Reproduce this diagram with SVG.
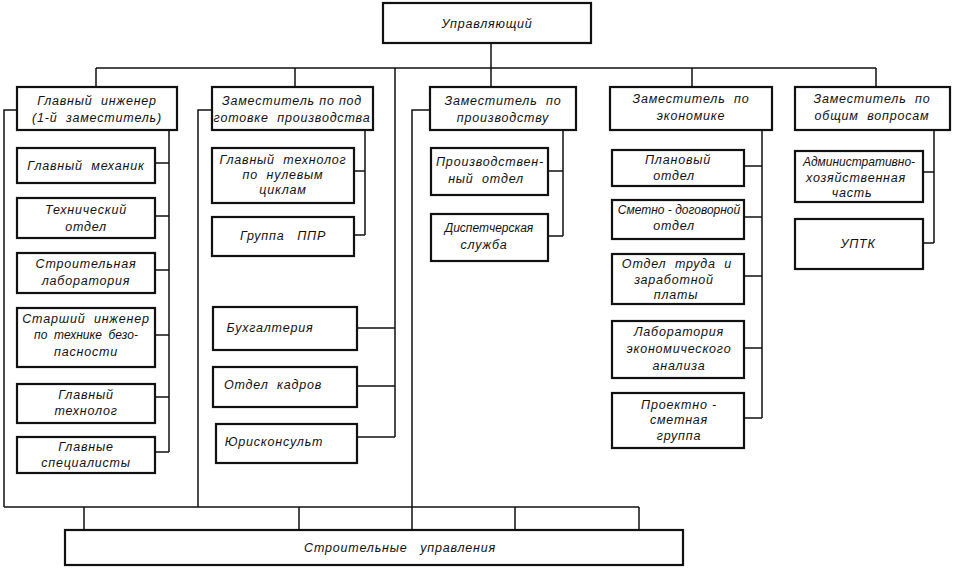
<svg xmlns="http://www.w3.org/2000/svg" width="953" height="568" viewBox="0 0 953 568">
<style>
rect{fill:#fff;stroke:#111;stroke-width:2.2}
.c path{fill:none;stroke:#111;stroke-width:1.5}
text{font-family:"Liberation Sans","DejaVu Sans",sans-serif;font-style:italic;font-size:12.5px;fill:#111;text-anchor:middle;letter-spacing:0.8px;white-space:pre}
.t{letter-spacing:0px;font-size:12px}
</style>
<rect x="0" y="0" width="953" height="568" style="fill:#fff;stroke:none"/>
<g class="c" id="connectors">
<path d="M491,43V87"/>
<path d="M96,68H876M96,68V87M295,68V87M692,68V87M876,68V87"/>
<path d="M395,68V437M357,328H395M357,386H395M357,437H395"/>
<path d="M17,110H4V507M212,110H198V507M430,110H412V530"/>
<path d="M4,507H639M84,507V530M299,507V530M515,507V530M639,507V530"/>
<path d="M169,130V452M155,163H169M155,216H169M155,270H169M155,335H169M155,397H169M155,452H169"/>
<path d="M365,130V235M354,171H365M354,235H365"/>
<path d="M563,130V236M548,171H563M548,236H563"/>
<path d="M762,130V418M744,166H762M744,217H762M744,276H762M744,348H762M744,418H762"/>
<path d="M934,130V243M923,172H934M923,243H934"/>
</g>
<g id="n-manager"><rect x="383" y="3" width="208" height="40"/><text x="487" y="28">Управляющий</text></g>
<g id="n-d1"><rect x="17" y="87" width="160" height="43"/><text x="97" y="105">Главный  инженер</text><text x="97" y="122">(1-й  заместитель)</text></g>
<g id="n-d2"><rect x="212" y="87" width="161" height="43"/><text x="292" y="105">Заместитель по под</text><text x="292" y="122">готовке  производства</text></g>
<g id="n-d3"><rect x="430" y="87" width="146" height="43"/><text x="503" y="105">Заместитель  по</text><text x="503" y="122">производству</text></g>
<g id="n-d4"><rect x="610" y="87" width="162" height="43"/><text x="691" y="103">Заместитель  по</text><text x="691" y="120">экономике</text></g>
<g id="n-d5"><rect x="795" y="87" width="155" height="43"/><text x="872" y="103">Заместитель  по</text><text x="872" y="120">общим  вопросам</text></g>
<g id="n-mech"><rect x="17" y="148" width="138" height="35"/><text x="86" y="170">Главный  механик</text></g>
<g id="n-tech"><rect x="17" y="198" width="138" height="40"/><text x="86" y="214">Технический</text><text x="86" y="231">отдел</text></g>
<g id="n-lab"><rect x="17" y="253" width="138" height="40"/><text x="86" y="268">Строительная</text><text x="86" y="285">лаборатория</text></g>
<g id="n-safety"><rect x="17" y="308" width="138" height="59"/><text x="86" y="323">Старший  инженер</text><text x="86" y="339" class="t">по  технике  безо-</text><text x="86" y="356">пасности</text></g>
<g id="n-techn"><rect x="17" y="384" width="138" height="39"/><text x="86" y="399">Главный</text><text x="86" y="415">технолог</text></g>
<g id="n-spec"><rect x="17" y="437" width="138" height="36"/><text x="86" y="451">Главные</text><text x="86" y="467">специалисты</text></g>
<g id="n-zero"><rect x="212" y="148" width="142" height="55"/><text x="283" y="164">Главный  технолог</text><text x="283" y="179">по  нулевым</text><text x="283" y="194">циклам</text></g>
<g id="n-ppr"><rect x="212" y="217" width="142" height="39"/><text x="283" y="240">Группа   ППР</text></g>
<g id="n-acc"><rect x="213" y="307" width="144" height="43"/><text x="270" y="332">Бухгалтерия</text></g>
<g id="n-hr"><rect x="213" y="367" width="144" height="40"/><text x="273" y="389">Отдел  кадров</text></g>
<g id="n-law"><rect x="216" y="424" width="141" height="39"/><text x="274" y="446">Юрисконсульт</text></g>
<g id="n-prod"><rect x="431" y="148" width="117" height="47"/><text x="490" y="166">Производствен-</text><text x="486" y="183">ный  отдел</text></g>
<g id="n-disp"><rect x="431" y="214" width="117" height="47"/><text x="489" y="232" class="t">Диспетчерская</text><text x="484" y="249">служба</text></g>
<g id="n-plan"><rect x="612" y="150" width="132" height="36"/><text x="678" y="164">Плановый</text><text x="674" y="180">отдел</text></g>
<g id="n-smeta"><rect x="612" y="200" width="132" height="39"/><text x="679" y="214" class="t">Сметно - договорной</text><text x="674" y="230">отдел</text></g>
<g id="n-labor"><rect x="612" y="254" width="132" height="50"/><text x="677" y="268">Отдел  труда  и</text><text x="674" y="284">заработной</text><text x="676" y="299">платы</text></g>
<g id="n-econ"><rect x="612" y="321" width="132" height="57"/><text x="679" y="336">Лаборатория</text><text x="679" y="353">экономического</text><text x="679" y="370">анализа</text></g>
<g id="n-proj"><rect x="612" y="393" width="132" height="55"/><text x="679" y="409">Проектно -</text><text x="679" y="424">сметная</text><text x="679" y="440">группа</text></g>
<g id="n-admin"><rect x="795" y="151" width="128" height="51"/><text x="859" y="166" class="t">Административно-</text><text x="856" y="182">хозяйственная</text><text x="852" y="197">часть</text></g>
<g id="n-uptk"><rect x="795" y="219" width="128" height="50"/><text x="858" y="248">УПТК</text></g>
<g id="n-bottom"><rect x="65" y="530" width="618" height="35"/><text x="400" y="552">Строительные   управления</text></g>
</svg>
